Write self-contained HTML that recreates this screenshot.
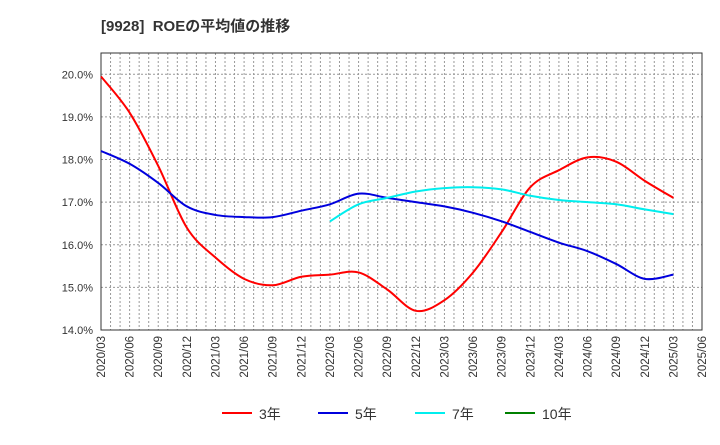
<!DOCTYPE html>
<html><head><meta charset="utf-8"><style>
body{margin:0;background:#fff;}
svg text{font-family:"Liberation Sans","Noto Sans CJK JP",sans-serif;}
</style></head><body>
<svg id="c" width="720" height="440" viewBox="0 0 720 440">
<text x="101" y="31" font-size="15" font-weight="bold" fill="#333" xml:space="preserve">[9928]  ROEの平均値の推移</text>
<g id="grid"></g><g id="axes"></g><g id="series"></g><g id="legend"></g>
</svg>
<script>
const xLabels=["2020/03","2020/06","2020/09","2020/12","2021/03","2021/06","2021/09","2021/12","2022/03","2022/06","2022/09","2022/12","2023/03","2023/06","2023/09","2023/12","2024/03","2024/06","2024/09","2024/12","2025/03","2025/06"];
const yTicks=[14,15,16,17,18,19,20];
const roe3=[19.95,19.1,17.85,16.4,15.7,15.2,15.05,15.25,15.3,15.35,14.95,14.45,14.7,15.35,16.3,17.35,17.75,18.05,17.95,17.5,17.1];
const roe5=[18.2,17.9,17.45,16.9,16.7,16.65,16.65,16.8,16.95,17.2,17.1,17.0,16.9,16.75,16.55,16.3,16.05,15.85,15.55,15.2,15.3];
const roe7=[null,null,null,null,null,null,null,null,16.55,16.95,17.1,17.25,17.33,17.35,17.3,17.15,17.05,17.0,16.95,16.83,16.72];
const roe10=[];
const L=101,R=702,T=53,B=330,yMin=14,yMax=20.5;
const X=i=>L+(R-L)*i/(xLabels.length-1);
const Y=v=>B-(B-T)*(v-yMin)/(yMax-yMin);
const NS="http://www.w3.org/2000/svg";
function mk(tag,attrs,parent){const e=document.createElementNS(NS,tag);for(const k in attrs)e.setAttribute(k,attrs[k]);parent.appendChild(e);return e;}
const grid=document.getElementById('grid'),axes=document.getElementById('axes'),ser=document.getElementById('series'),leg=document.getElementById('legend');
for(let m=1;m<(xLabels.length-1)*3;m++){const x=L+(R-L)*m/((xLabels.length-1)*3);
const g=mk('line',{x1:x,x2:x,y1:T,y2:B,stroke:'#999','stroke-dasharray':'2,2','stroke-width':1},grid);

}
yTicks.forEach(v=>{if(v===yMin)return;const y=Y(v);
const g=mk('line',{x1:L,x2:R,y1:y,y2:y,stroke:'#999','stroke-dasharray':'2,2','stroke-width':1},grid);

});
const frame=mk('rect',{x:L,y:T,width:R-L,height:B-T,fill:'none',stroke:'#333','stroke-width':1},axes);


yTicks.forEach(v=>{const t=mk('text',{x:93,y:Y(v)+4,'font-size':11,'text-anchor':'end',fill:'#333'},axes);t.textContent=v.toFixed(1)+'%';

});
xLabels.forEach((s,i)=>{const x=X(i);const t=mk('text',{x:0,y:0,'font-size':11.5,'text-anchor':'end',fill:'#333',transform:`translate(${x+4},336) rotate(-90)`},axes);t.textContent=s;

});
function path(arr){const pts=[];arr.forEach((v,i)=>{if(v!=null)pts.push([X(i),Y(v)]);});if(pts.length<2)return '';
let d=`M${pts[0][0]},${pts[0][1]}`;
for(let i=0;i<pts.length-1;i++){const p0=pts[Math.max(0,i-1)],p1=pts[i],p2=pts[i+1],p3=pts[Math.min(pts.length-1,i+2)];
const c1=[p1[0]+(p2[0]-p0[0])/6,p1[1]+(p2[1]-p0[1])/6],c2=[p2[0]-(p3[0]-p1[0])/6,p2[1]-(p3[1]-p1[1])/6];
d+=`C${c1[0]},${c1[1]} ${c2[0]},${c2[1]} ${p2[0]},${p2[1]}`;}return d;}
const series=[[roe3,'#ff0000','3年','roe-3yr-line'],[roe5,'#0000dd','5年','roe-5yr-line'],[roe7,'#00eeee','7年','roe-7yr-line'],[roe10,'#008000','10年','roe-10yr-line']];
series.forEach(s=>{const d=path(s[0]);if(d){const p=mk('path',{d:d,fill:'none',stroke:s[1],'stroke-width':2},ser);

}});
const lx=[222,318,415,505];
series.forEach((s,i)=>{const g=mk('g',{},leg);


mk('line',{x1:lx[i],x2:lx[i]+30,y1:413,y2:413,stroke:s[1],'stroke-width':2},g);
const t=mk('text',{x:lx[i]+37,y:419,'font-size':14,fill:'#333'},g);t.textContent=s[2];});
</script>
</body></html>
